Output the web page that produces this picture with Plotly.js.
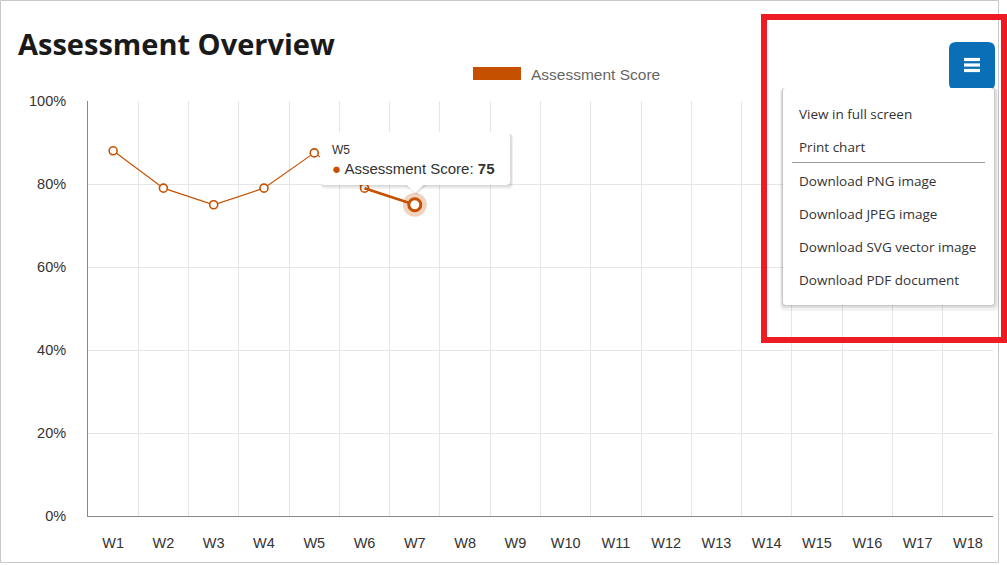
<!DOCTYPE html>
<html>
<head>
<meta charset="utf-8">
<script src="https://cdn.plot.ly/plotly-3.0.1.min.js"></script>
<style>html,body{margin:0;padding:0;background:#fff;}#chart{width:1007px;height:565px;}</style>
</head>
<body>
<div id="chart"></div>
<script>
// ---- data ----
const weeks = ['W1','W2','W3','W4','W5','W6','W7','W8','W9','W10','W11','W12','W13','W14','W15','W16','W17','W18'];
const scoreWeeks = ['W1','W2','W3','W4','W5','W6','W7'];
const scores = [88, 79, 75, 79, 87.5, 79, 75];
const yTicks = [0, 20, 40, 60, 80, 100];
const yTickLabels = ['0%', '20%', '40%', '60%', '80%', '100%'];
const seriesName = 'Assessment Score';
const hoverIndex = 6;
const tooltipCategory = 'W5';
const tooltipValue = 75;
const menuItems = ['View in full screen', 'Print chart', 'Download PNG image', 'Download JPEG image', 'Download SVG vector image', 'Download PDF document'];

const ORANGE = '#c55000';

// ---- pixel helpers (plot area) ----
const L = 88, R = 993, T = 101, B = 516;
const X = px => (px - L) / (R - L);
const Y = py => (B - py) / (B - T);

function rr(x0, y0, x1, y1, r) {
  const rx = r / (R - L), ry = r / (B - T);
  const a = X(x0), b = X(x1), top = Y(y0), bot = Y(y1);
  return `M${a+rx},${top} L${b-rx},${top} Q${b},${top} ${b},${top-ry} L${b},${bot+ry} Q${b},${bot} ${b-rx},${bot} L${a+rx},${bot} Q${a},${bot} ${a},${bot+ry} L${a},${top-ry} Q${a},${top} ${a+rx},${top} Z`;
}
function rect(x0, y0, x1, y1, fill, line, lw, layer) {
  return {type:'rect', xref:'paper', yref:'paper', x0:X(x0), x1:X(x1), y0:Y(y1), y1:Y(y0),
    fillcolor: fill, line:{color: line || 'rgba(0,0,0,0)', width: lw || 0}, layer: layer || 'above'};
}
function line(x0, y0, x1, y1, color, w) {
  return {type:'line', xref:'paper', yref:'paper', x0:X(x0), x1:X(x1), y0:Y(y0), y1:Y(y1),
    line:{color: color, width: w}, layer:'above'};
}
function pathShape(p, fill) {
  return {type:'path', xref:'paper', yref:'paper', path: p, fillcolor: fill, line:{width:0}, layer:'above'};
}

const traces = [
  {x: scoreWeeks, y: scores, type:'scatter', mode:'lines+markers', name: seriesName,
   line:{color: ORANGE, width: 1.2},
   marker:{size: 8, color:'#fff', line:{color: ORANGE, width: 1.6}}, showlegend:false},
  {x: scoreWeeks.slice(hoverIndex-1, hoverIndex+1), y: scores.slice(hoverIndex-1, hoverIndex+1),
   type:'scatter', mode:'lines', line:{color: ORANGE, width: 2.6}, showlegend:false},
  {x: [scoreWeeks[hoverIndex]], y: [scores[hoverIndex]], type:'scatter', mode:'markers',
   marker:{size: 24, color:'rgba(197,80,0,0.25)'}, showlegend:false},
  {x: [scoreWeeks[hoverIndex]], y: [scores[hoverIndex]], type:'scatter', mode:'markers',
   marker:{size: 12, color:'#fff', line:{color: ORANGE, width: 3}}, showlegend:false}
];

const shapes = [];
// outer frame
shapes.push(rect(0.5, 0.5, 998.5, 562.5, 'rgba(0,0,0,0)', '#c8c8c8', 1, 'below'));
// legend symbol
shapes.push(rect(473, 67, 521, 80, ORANGE));
// tooltip shadow + box + pointer
shapes.push(pathShape(rr(321, 134, 513, 189, 5), 'rgba(0,0,0,0.06)'));
shapes.push(pathShape(rr(321, 133, 512, 187, 4), 'rgba(0,0,0,0.08)'));
shapes.push(pathShape(`M${X(405)},${Y(185)} L${X(416)},${Y(195)} L${X(427)},${Y(185)} Z`, 'rgba(0,0,0,0.1)'));
shapes.push(pathShape(rr(320, 132, 510, 185, 4), '#ffffff'));
shapes.push(pathShape(`M${X(406)},${Y(184.5)} L${X(415)},${Y(193)} L${X(424)},${Y(184.5)} Z`, '#ffffff'));
// menu button
shapes.push(pathShape(rr(949, 42, 995, 90, 7), '#0b6fb8'));
[59.5, 65, 70.5].forEach(yy => {
  shapes.push({type:'line', xref:'paper', yref:'paper', x0:X(964), x1:X(980), y0:Y(yy), y1:Y(yy), line:{color:'#fff', width:3.2}, layer:'above'});
});
// menu box shadow
shapes.push(pathShape(rr(780, 88, 999, 311, 5), 'rgba(0,0,0,0.05)'));
shapes.push(pathShape(rr(781, 88, 997, 308, 4), 'rgba(0,0,0,0.08)'));
shapes.push(pathShape(rr(782, 88, 995, 306, 4), 'rgba(0,0,0,0.1)'));
shapes.push(pathShape(rr(783, 88, 994, 305, 3), '#ffffff'));
shapes.push(line(792, 162.5, 985, 162.5, '#999', 1));
// red highlight box
shapes.push({type:'rect', xref:'paper', yref:'paper', x0:X(764), x1:X(1004), y0:Y(340), y1:Y(17),
  fillcolor:'rgba(0,0,0,0)', line:{color:'#ed1c24', width:6}, layer:'above'});

const menuY = [114, 147, 181, 214, 247, 280];
const annotations = [
  {xref:'paper', yref:'paper', x:X(529), y:Y(74), xanchor:'left', yanchor:'middle', showarrow:false,
   text: seriesName, font:{family:'Liberation Sans, Arial', size:15.5, color:'#666'}},
  {xref:'paper', yref:'paper', x:X(330), y:Y(150), xanchor:'left', yanchor:'middle', showarrow:false,
   text: tooltipCategory, font:{family:'Liberation Sans, Arial', size:12, color:'#333'}},
  {xref:'paper', yref:'paper', x:X(330), y:Y(168), xanchor:'left', yanchor:'middle', showarrow:false,
   text: `<span style="color:${ORANGE}">●</span> ${seriesName}: <b>${tooltipValue}</b>`,
   font:{family:'Liberation Sans, Arial', size:15, color:'#333'}}
];
menuItems.forEach((t, i) => annotations.push({xref:'paper', yref:'paper', x:X(797), y:Y(menuY[i]), xanchor:'left', yanchor:'middle',
  showarrow:false, text:t, font:{family:'Open Sans, Noto Sans', size:13.5, color:'#333'}}));

const layout = {
  width: 1007, height: 565,
  margin: {l: L, r: 1007 - R, t: T, b: 565 - B, pad: 0},
  paper_bgcolor: '#fff', plot_bgcolor: '#fff',
  showlegend: false,
  hovermode: false,
  title: {text: 'Assessment Overview', x: 18/1007, xanchor: 'left', xref: 'container',
    y: 1 - 45/565, yanchor: 'middle', yref: 'container',
    font: {family: 'Open Sans, Inter', size: 29, weight: 700, color: '#1a1a1a'}},
  xaxis: {type: 'category', categoryorder: 'array', categoryarray: weeks, range: [-0.5, weeks.length - 0.5],
    tickson: 'boundaries', showgrid: true, gridcolor: '#e6e6e6', gridwidth: 1,
    showline: true, linecolor: '#888', linewidth: 1, ticks: '', zeroline: false,
    ticklabelstandoff: 14, tickfont: {family: 'Liberation Sans, Arial', size: 14.5, color: '#333'}, fixedrange: true},
  yaxis: {range: [0, 100], tickvals: yTicks, ticktext: yTickLabels, showgrid: true, gridcolor: '#e6e6e6', gridwidth: 1,
    showline: true, linecolor: '#888', linewidth: 1, ticks: '', zeroline: false,
    ticklabelstandoff: 18, tickfont: {family: 'Liberation Sans, Arial', size: 14.5, color: '#333'}, fixedrange: true},
  shapes: shapes,
  annotations: annotations
};

Plotly.newPlot('chart', traces, layout, {displayModeBar: false, staticPlot: true});
</script>
</body>
</html>
